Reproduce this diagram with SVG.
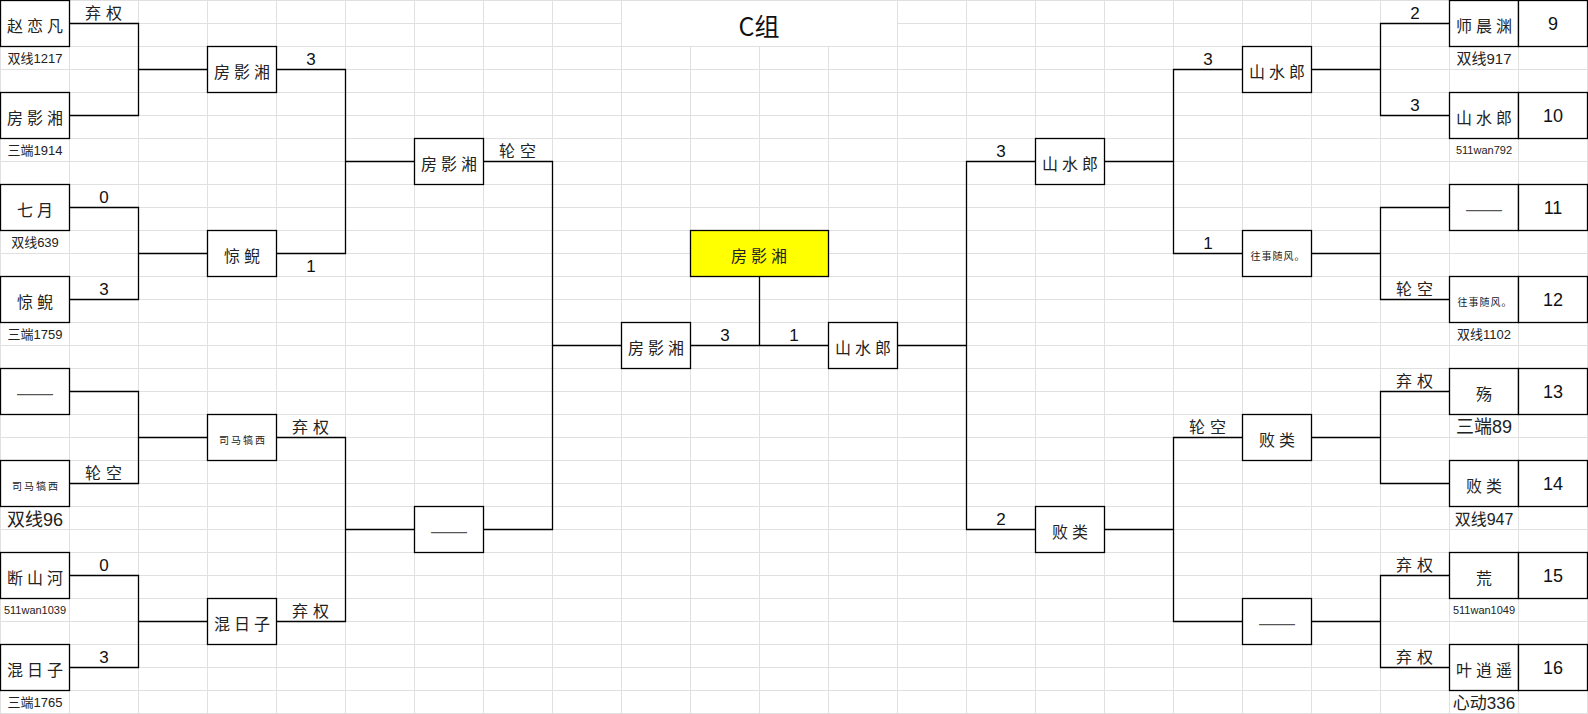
<svg xmlns="http://www.w3.org/2000/svg" width="1588" height="714" viewBox="0 0 1588 714">
<defs>
<pattern id="grid" patternUnits="userSpaceOnUse" width="69" height="23">
<path d="M0 0.5H69M0.5 0V23" stroke="#e0e0e0" stroke-width="1" fill="none"/>
</pattern>
<style>
.box{fill:#fff;stroke:#000;stroke-width:1.3}
.ln{fill:none;stroke:#000;stroke-width:1.3}
.nm{font-family:"Noto Sans CJK SC",sans-serif;font-size:16px;letter-spacing:4px;text-anchor:middle;dominant-baseline:central;fill:#222}
.smn{font-family:"Noto Sans CJK SC",sans-serif;font-size:10px;letter-spacing:2px;text-anchor:middle;dominant-baseline:central;fill:#222}
.dash{font-family:"Noto Sans CJK SC",sans-serif;font-size:18px;text-anchor:middle;dominant-baseline:central;fill:#555}
.sub{font-family:"Liberation Sans","Noto Sans CJK SC",sans-serif;font-size:13px;text-anchor:middle;dominant-baseline:central;fill:#222}
.lb{font-family:"Noto Sans CJK SC",sans-serif;font-size:16px;letter-spacing:5px;text-anchor:middle;fill:#222}
.sc{font-family:"Liberation Sans",sans-serif;font-size:17px;text-anchor:middle;fill:#111}
.num{font-family:"Liberation Sans",sans-serif;font-size:18px;text-anchor:middle;dominant-baseline:central;fill:#111}
.title{font-family:"Noto Sans CJK SC",sans-serif;font-size:25px;text-anchor:middle;dominant-baseline:central;fill:#111}
</style>
</defs>
<rect x="0" y="0" width="1588" height="714" fill="#fff"/>
<rect x="0" y="0" width="1588" height="714" fill="url(#grid)"/>
<g id="title">
<rect x="622" y="1" width="275" height="45" fill="#fff"/>
<text class="title" x="759" y="25">C组</text>
</g>

<g id="connectors">
<path class="ln" d="M69.5 23.5H138.5V115.5H69.5M138.5 69.5H207.5"/>
<path class="ln" d="M69.5 207.5H138.5V299.5H69.5M138.5 253.5H207.5"/>
<path class="ln" d="M69.5 391.5H138.5V483.5H69.5M138.5 437.5H207.5"/>
<path class="ln" d="M69.5 575.5H138.5V667.5H69.5M138.5 621.5H207.5"/>
<path class="ln" d="M276.5 69.5H345.5V253.5H276.5M345.5 161.5H414.5"/>
<path class="ln" d="M276.5 437.5H345.5V621.5H276.5M345.5 529.5H414.5"/>
<path class="ln" d="M483.5 161.5H552.5V529.5H483.5M552.5 345.5H621.5"/>
<path class="ln" d="M690.5 345.5H828.5M759.5 276.5V345.5"/>
<path class="ln" d="M1035.5 161.5H966.5V529.5H1035.5M897.5 345.5H966.5"/>
<path class="ln" d="M1242.5 69.5H1173.5V253.5H1242.5M1104.5 161.5H1173.5"/>
<path class="ln" d="M1242.5 437.5H1173.5V621.5H1242.5M1104.5 529.5H1173.5"/>
<path class="ln" d="M1449.5 23.5H1380.5V115.5H1449.5M1311.5 69.5H1380.5"/>
<path class="ln" d="M1449.5 207.5H1380.5V299.5H1449.5M1311.5 253.5H1380.5"/>
<path class="ln" d="M1449.5 391.5H1380.5V483.5H1449.5M1311.5 437.5H1380.5"/>
<path class="ln" d="M1449.5 575.5H1380.5V667.5H1449.5M1311.5 621.5H1380.5"/>
</g>

<g id="scores">
<text class="lb" x="106" y="19">弃权</text>
<text class="sc" x="104" y="203">0</text>
<text class="sc" x="104" y="295">3</text>
<text class="lb" x="106" y="479">轮空</text>
<text class="sc" x="104" y="571">0</text>
<text class="sc" x="104" y="663">3</text>
<text class="sc" x="311" y="65">3</text>
<text class="sc" x="311" y="272">1</text>
<text class="lb" x="313" y="433">弃权</text>
<text class="lb" x="313" y="617">弃权</text>
<text class="lb" x="520" y="157">轮空</text>
<text class="sc" x="725" y="341">3</text>
<text class="sc" x="794" y="341">1</text>
<text class="sc" x="1001" y="157">3</text>
<text class="sc" x="1001" y="525">2</text>
<text class="sc" x="1208" y="65">3</text>
<text class="sc" x="1208" y="249">1</text>
<text class="lb" x="1210" y="433">轮空</text>
<text class="sc" x="1415" y="19">2</text>
<text class="sc" x="1415" y="111">3</text>
<text class="lb" x="1417" y="295">轮空</text>
<text class="lb" x="1417" y="387">弃权</text>
<text class="lb" x="1417" y="571">弃权</text>
<text class="lb" x="1417" y="663">弃权</text>
</g>

<g id="L1"><rect class="box" x="0.5" y="0.5" width="69" height="46"/><text class="nm" x="37" y="24.5">赵恋凡</text><text class="sub" x="35" y="58">双线1217</text></g>
<g id="L2"><rect class="box" x="0.5" y="92.5" width="69" height="46"/><text class="nm" x="37" y="116.5">房影湘</text><text class="sub" x="35" y="150">三端1914</text></g>
<g id="L3"><rect class="box" x="0.5" y="184.5" width="69" height="46"/><text class="nm" x="37" y="208.5">七月</text><text class="sub" x="35" y="242">双线639</text></g>
<g id="L4"><rect class="box" x="0.5" y="276.5" width="69" height="46"/><text class="nm" x="37" y="300.5">惊鲵</text><text class="sub" x="35" y="334">三端1759</text></g>
<g id="L5"><rect class="box" x="0.5" y="368.5" width="69" height="46"/><text class="dash" x="35" y="392" textLength="38" lengthAdjust="spacingAndGlyphs">——</text></g>
<g id="L6"><rect class="box" x="0.5" y="460.5" width="69" height="46"/><text class="smn" x="36" y="485">司马犒西</text><text class="sub" x="35" y="520" style="font-size:18px">双线96</text></g>
<g id="L7"><rect class="box" x="0.5" y="552.5" width="69" height="46"/><text class="nm" x="37" y="576.5">断山河</text><text class="sub" x="35" y="610" style="font-size:11px">511wan1039</text></g>
<g id="L8"><rect class="box" x="0.5" y="644.5" width="69" height="46"/><text class="nm" x="37" y="668.5">混日子</text><text class="sub" x="35" y="702">三端1765</text></g>

<g id="L2-1"><rect class="box" x="207.5" y="46.5" width="69" height="46"/><text class="nm" x="244" y="70.5">房影湘</text></g>
<g id="L2-2"><rect class="box" x="207.5" y="230.5" width="69" height="46"/><text class="nm" x="244" y="254.5">惊鲵</text></g>
<g id="L2-3"><rect class="box" x="207.5" y="414.5" width="69" height="46"/><text class="smn" x="243" y="439">司马犒西</text></g>
<g id="L2-4"><rect class="box" x="207.5" y="598.5" width="69" height="46"/><text class="nm" x="244" y="622.5">混日子</text></g>

<g id="L3-1"><rect class="box" x="414.5" y="138.5" width="69" height="46"/><text class="nm" x="451" y="162.5">房影湘</text></g>
<g id="L3-2"><rect class="box" x="414.5" y="506.5" width="69" height="46"/><text class="dash" x="449" y="530" textLength="38" lengthAdjust="spacingAndGlyphs">——</text></g>

<g id="SF-L"><rect class="box" x="621.5" y="322.5" width="69" height="46"/><text class="nm" x="658" y="346.5">房影湘</text></g>
<g id="champion"><rect x="690.5" y="230.5" width="138" height="46" fill="#ffff00" stroke="#000" stroke-width="1.3"/><text class="nm" x="761" y="254.5">房影湘</text></g>
<g id="SF-R"><rect class="box" x="828.5" y="322.5" width="69" height="46"/><text class="nm" x="865" y="346.5">山水郎</text></g>

<g id="R3-1"><rect class="box" x="1035.5" y="138.5" width="69" height="46"/><text class="nm" x="1072" y="162.5">山水郎</text></g>
<g id="R3-2"><rect class="box" x="1035.5" y="506.5" width="69" height="46"/><text class="nm" x="1072" y="530.5">败类</text></g>

<g id="R2-1"><rect class="box" x="1242.5" y="46.5" width="69" height="46"/><text class="nm" x="1279" y="70.5">山水郎</text></g>
<g id="R2-2"><rect class="box" x="1242.5" y="230.5" width="69" height="46"/><text class="smn" x="1278" y="255" style="letter-spacing:1px">往事随风。</text></g>
<g id="R2-3"><rect class="box" x="1242.5" y="414.5" width="69" height="46"/><text class="nm" x="1279" y="438.5">败类</text></g>
<g id="R2-4"><rect class="box" x="1242.5" y="598.5" width="69" height="46"/><text class="dash" x="1277" y="622" textLength="38" lengthAdjust="spacingAndGlyphs">——</text></g>

<g id="R9"><rect class="box" x="1449.5" y="0.5" width="69" height="46"/><rect class="box" x="1518.5" y="0.5" width="69" height="46"/><text class="nm" x="1486" y="24.5">师晨渊</text><text class="num" x="1553" y="24">9</text><text class="sub" x="1484" y="58" style="font-size:15px">双线917</text></g>
<g id="R10"><rect class="box" x="1449.5" y="92.5" width="69" height="46"/><rect class="box" x="1518.5" y="92.5" width="69" height="46"/><text class="nm" x="1486" y="116.5">山水郎</text><text class="num" x="1553" y="116">10</text><text class="sub" x="1484" y="150" style="font-size:11px">511wan792</text></g>
<g id="R11"><rect class="box" x="1449.5" y="184.5" width="69" height="46"/><rect class="box" x="1518.5" y="184.5" width="69" height="46"/><text class="dash" x="1484" y="208" textLength="38" lengthAdjust="spacingAndGlyphs">——</text><text class="num" x="1553" y="208">11</text></g>
<g id="R12"><rect class="box" x="1449.5" y="276.5" width="69" height="46"/><rect class="box" x="1518.5" y="276.5" width="69" height="46"/><text class="smn" x="1485" y="301" style="letter-spacing:1px">往事随风。</text><text class="num" x="1553" y="300">12</text><text class="sub" x="1484" y="334">双线1102</text></g>
<g id="R13"><rect class="box" x="1449.5" y="368.5" width="69" height="46"/><rect class="box" x="1518.5" y="368.5" width="69" height="46"/><text class="nm" x="1486" y="392.5">殇</text><text class="num" x="1553" y="392">13</text><text class="sub" x="1484" y="427" style="font-size:18px">三端89</text></g>
<g id="R14"><rect class="box" x="1449.5" y="460.5" width="69" height="46"/><rect class="box" x="1518.5" y="460.5" width="69" height="46"/><text class="nm" x="1486" y="484.5">败类</text><text class="num" x="1553" y="484">14</text><text class="sub" x="1484" y="519" style="font-size:16px">双线947</text></g>
<g id="R15"><rect class="box" x="1449.5" y="552.5" width="69" height="46"/><rect class="box" x="1518.5" y="552.5" width="69" height="46"/><text class="nm" x="1486" y="576.5">荒</text><text class="num" x="1553" y="576">15</text><text class="sub" x="1484" y="610" style="font-size:11px">511wan1049</text></g>
<g id="R16"><rect class="box" x="1449.5" y="644.5" width="69" height="46"/><rect class="box" x="1518.5" y="644.5" width="69" height="46"/><text class="nm" x="1486" y="668.5">叶逍遥</text><text class="num" x="1553" y="668">16</text><text class="sub" x="1484" y="703" style="font-size:17px">心动336</text></g>
</svg>
